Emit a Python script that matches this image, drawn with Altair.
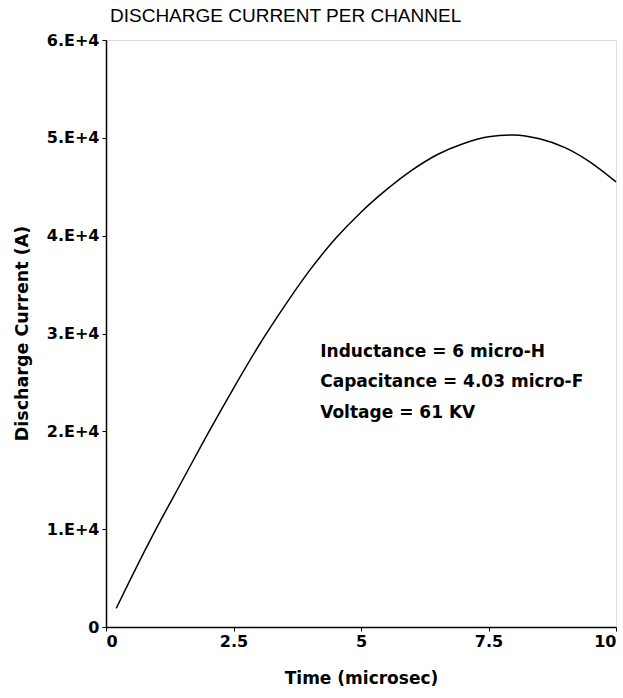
import altair as alt
import pandas as pd

# Curve
time_us = [0.2, 0.5, 1.0, 1.5, 2.0, 2.5, 3.0, 3.5, 4.0, 4.5, 5.0, 5.5, 6.0,
           6.5, 7.0, 7.5, 8.0, 8.5, 9.0, 9.5, 10.0]
current_a = [1900, 5100, 10200, 15000, 19800, 24400, 28800, 32800, 36500,
             39700, 42400, 44700, 46700, 48300, 49400, 50100, 50300, 49900,
             49000, 47500, 45500]

# Annotation
note_lines = ["Inductance = 6 micro-H", "Capacitance = 4.03 micro-F", "Voltage = 61 KV"]
note_t = [4.2, 4.2, 4.2]
note_i = [28100, 25000, 21900]

x_ticks = [0, 2.5, 5, 7.5, 10]
y_ticks = [0, 10000, 20000, 30000, 40000, 50000, 60000]

df = pd.DataFrame({"t": time_us, "i": current_a})
notes = pd.DataFrame({"t": note_t, "i": note_i, "label": note_lines})

FONT = "DejaVu Sans"

x_scale = alt.Scale(domain=[0, 10], nice=False, zero=False)
y_scale = alt.Scale(domain=[0, 60000], nice=False)

line = alt.Chart(df).mark_line(color="black", strokeWidth=1.5, interpolate="monotone").encode(
    x=alt.X("t:Q", scale=x_scale,
            axis=alt.Axis(title="Time (microsec)", values=x_ticks,
                          labelExpr="toString(datum.value)",
                          grid=False, domainColor="black", domainWidth=1.5,
                          tickColor="black", tickSize=4, labelColor="black",
                          labelFont=FONT, labelFontSize=16, labelFontWeight="bold",
                          labelPadding=2, titleFont=FONT, titleFontSize=17,
                          titleFontWeight="bold", titleColor="black",
                          titleY=43, titleBaseline="top")),
    y=alt.Y("i:Q", scale=y_scale,
            axis=alt.Axis(title="Discharge Current (A)", values=y_ticks,
                          labelExpr="datum.value == 0 ? '0' : format(datum.value/10000, 'd') + '.E+4'",
                          grid=False, domainColor="black", domainWidth=1.5,
                          tickColor="black", tickSize=4, labelColor="black",
                          labelFont=FONT, labelFontSize=16, labelFontWeight="bold",
                          labelPadding=3, titleFont=FONT, titleFontSize=17.5,
                          titleFontWeight="bold", titleColor="black",
                          titleX=-84, titleY=293, titleAngle=270,
                          titleAlign="center", titleBaseline="middle")),
)

text = alt.Chart(notes).mark_text(align="left", baseline="middle", font=FONT,
                                  fontSize=17, fontWeight="bold", color="black").encode(
    x="t:Q", y="i:Q", text="label:N")

chart = (line + text).properties(
    width=510, height=587,
    title=alt.TitleParams("DISCHARGE CURRENT PER CHANNEL", anchor="start", frame="group",
                          font="Liberation Sans", fontSize=19, fontWeight="normal",
                          color="black", offset=6, dx=4),
    padding={"left": 106, "top": 40, "right": 7, "bottom": 71},
    autosize=alt.AutoSizeParams(type="none"),
).configure_view(stroke="black", strokeWidth=1.5).configure(background="white")

chart.save("out.html", embed_options={"renderer": "svg", "actions": False})
